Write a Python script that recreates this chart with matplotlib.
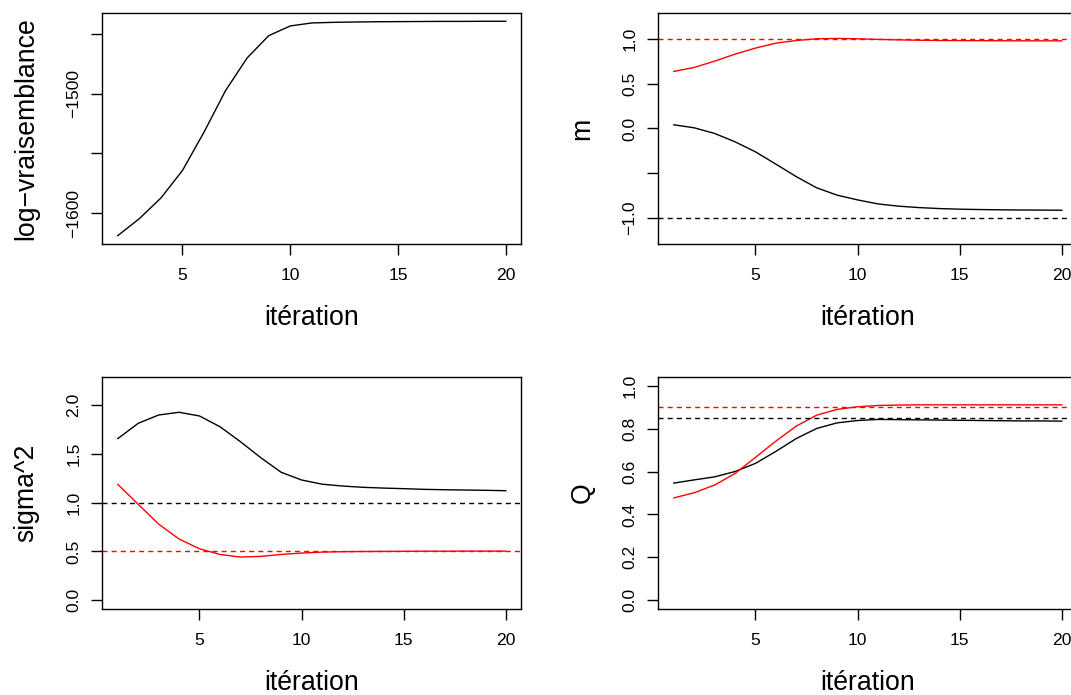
import matplotlib
matplotlib.use("Agg")
import matplotlib.pyplot as plt
import numpy as np

plt.rcParams['font.family'] = ['Liberation Sans', 'DejaVu Sans']

# ---------------- data ----------------
iter_ll = list(range(2, 21))
loglik = [-1618.6, -1604.4, -1587.2, -1564.2, -1532.2, -1497.5, -1470.3, -1451.7,
          -1443.6, -1441.1, -1440.6, -1440.3, -1440.1, -1440.0, -1439.9, -1439.8,
          -1439.8, -1439.7, -1439.7]

iters = list(range(1, 21))
m_black = [0.041, 0.007, -0.056, -0.150, -0.262, -0.400, -0.540, -0.665, -0.747, -0.800,
           -0.845, -0.870, -0.886, -0.897, -0.904, -0.908, -0.911, -0.913, -0.914, -0.916]
m_red = [0.638, 0.683, 0.754, 0.832, 0.900, 0.955, 0.985, 1.004, 1.008, 1.004,
         0.997, 0.992, 0.988, 0.985, 0.984, 0.983, 0.982, 0.981, 0.981, 0.981]
m_true = [-1.0, 1.0]

s2_black = [1.658, 1.815, 1.900, 1.928, 1.890, 1.780, 1.627, 1.462, 1.312, 1.233,
            1.190, 1.171, 1.158, 1.150, 1.144, 1.137, 1.133, 1.130, 1.127, 1.123]
s2_red = [1.188, 0.983, 0.780, 0.627, 0.527, 0.469, 0.442, 0.449, 0.469, 0.483,
          0.493, 0.497, 0.499, 0.500, 0.501, 0.502, 0.502, 0.503, 0.503, 0.503]
s2_true = [1.0, 0.5]

q_black = [0.546, 0.561, 0.575, 0.600, 0.638, 0.694, 0.754, 0.801, 0.827, 0.838,
           0.843, 0.842, 0.841, 0.840, 0.839, 0.838, 0.837, 0.836, 0.836, 0.835]
q_red = [0.477, 0.501, 0.537, 0.591, 0.666, 0.742, 0.812, 0.863, 0.890, 0.902,
         0.908, 0.910, 0.911, 0.911, 0.911, 0.911, 0.911, 0.911, 0.911, 0.911]
q_true = [0.85, 0.90]

xticks = [5, 10, 15, 20]

# ---------------- figure ----------------
W, H = 1071, 695
fig = plt.figure(figsize=(W / 100, H / 100), dpi=100)

axw = 419 / W
axh = 231.5 / H
lefts = [102.3 / W, 658.3 / W]
bottoms = [1 - 244.2 / H, 1 - 608.7 / H]

TICK_FS = 12.6
LAB_FS = 19.2
LW = 1.0
DASH = (3.6, 3.0)


def rpad(lo, hi):
    d = (hi - lo) * 0.04
    return lo - d, hi + d


def style(ax, xlab, ylab, yticks, ylabels):
    for sp in ax.spines.values():
        sp.set_linewidth(LW)
    ax.set_xticks(xticks)
    ax.set_xticklabels([str(t) for t in xticks])
    ax.set_yticks(yticks)
    ax.set_yticklabels(ylabels)
    ax.tick_params(axis='both', direction='out', length=7.9, width=LW,
                   labelsize=TICK_FS, color='black')
    ax.tick_params(axis='x', pad=9.3)
    ax.tick_params(axis='y', pad=7.1, labelrotation=90)
    for lab in ax.get_yticklabels():
        lab.set_va('center')
    ax.text(0.5, -74 / 231.5, xlab, transform=ax.transAxes, ha='center',
            va='center', fontsize=LAB_FS)
    ax.text(-76 / 419, 0.5, ylab, transform=ax.transAxes, ha='center',
            va='center', rotation=90, fontsize=LAB_FS)


# Panel 1: log-likelihood
ax1 = fig.add_axes([lefts[0], bottoms[0], axw, axh])
ax1.plot(iter_ll, loglik, color='black', lw=LW)
ax1.set_xlim(*rpad(min(iter_ll), max(iter_ll)))
ax1.set_ylim(*rpad(min(loglik), max(loglik)))
style(ax1, 'itération', 'log\u2212vraisemblance',
      [-1600, -1550, -1500, -1450], ['\u22121600', '', '\u22121500', ''])

# Panel 2: m
ax2 = fig.add_axes([lefts[1], bottoms[0], axw, axh])
ax2.plot(iters, m_black, color='black', lw=LW)
ax2.plot(iters, m_red, color='red', lw=LW)
ax2.axhline(m_true[0], color='black', lw=LW, ls=(0, DASH))
ax2.axhline(m_true[1], color='red', lw=LW, ls=(0, DASH))
ax2.set_xlim(*rpad(min(iters), max(iters)))
ax2.set_ylim(*rpad(-1.2, 1.2))
style(ax2, 'itération', 'm', [-1.0, -0.5, 0.0, 0.5, 1.0],
      ['\u22121.0', '', '0.0', '0.5', '1.0'])

# Panel 3: sigma^2
ax3 = fig.add_axes([lefts[0], bottoms[1], axw, axh])
ax3.plot(iters, s2_black, color='black', lw=LW)
ax3.plot(iters, s2_red, color='red', lw=LW)
ax3.axhline(s2_true[0], color='black', lw=LW, ls=(0, DASH))
ax3.axhline(s2_true[1], color='red', lw=LW, ls=(0, DASH))
ax3.set_xlim(*rpad(min(iters), max(iters)))
ax3.set_ylim(*rpad(0.0, 2.2))
style(ax3, 'itération', 'sigma^2', [0.0, 0.5, 1.0, 1.5, 2.0],
      ['0.0', '0.5', '1.0', '1.5', '2.0'])

# Panel 4: Q
ax4 = fig.add_axes([lefts[1], bottoms[1], axw, axh])
ax4.plot(iters, q_black, color='black', lw=LW)
ax4.plot(iters, q_red, color='red', lw=LW)
ax4.axhline(q_true[0], color='black', lw=LW, ls=(0, DASH))
ax4.axhline(q_true[1], color='red', lw=LW, ls=(0, DASH))
ax4.set_xlim(*rpad(min(iters), max(iters)))
ax4.set_ylim(*rpad(0.0, 1.0))
style(ax4, 'itération', 'Q', [0.0, 0.2, 0.4, 0.6, 0.8, 1.0],
      ['0.0', '0.2', '0.4', '0.6', '0.8', '1.0'])

fig.savefig('out.png', dpi=100)
